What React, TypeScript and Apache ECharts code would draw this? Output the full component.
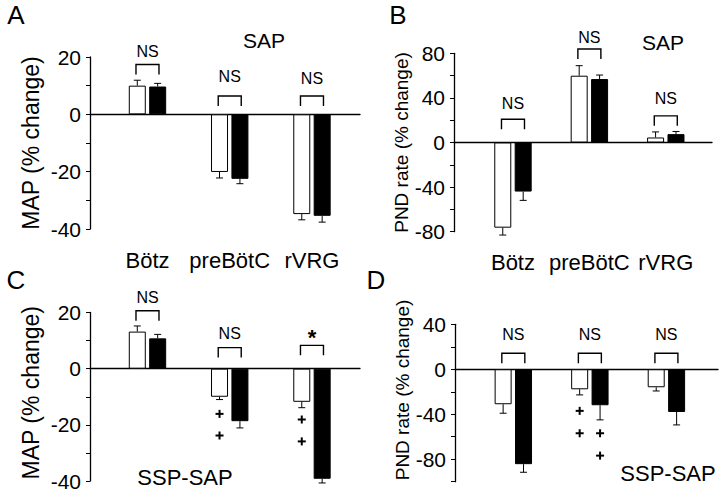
import React, { useEffect, useRef } from 'react';
import * as echarts from 'echarts';

// ---------- data ----------
const categories = ['Bötz', 'preBötC', 'rVRG'];

// Panel A: MAP (% change), SAP
const mapSapWhite = [10.0, -20.1, -34.8];
const mapSapWhiteErr = [1.9, 2.1, 2.0];
const mapSapBlack = [9.7, -22.5, -35.4];
const mapSapBlackErr = [1.1, 1.7, 2.2];
const mapSapBracket = [17.4, 6.4, 6.4];
const mapSapSigY = [21.8, 13.1, 12.6];
const mapSapSig = ['NS', 'NS', 'NS'];

// Panel B: PND rate (% change), SAP
const pndSapWhite = [-76.4, 59.9, 4.5];
const pndSapWhiteErr = [6.6, 9.0, 5.0];
const pndSapBlack = [-44.0, 56.9, 7.5];
const pndSapBlackErr = [7.9, 3.6, 2.4];
const pndSapBracket = [20.9, 83.9, 23.9];
const pndSapSigY = [35.3, 94.3, 39.8];
const pndSapSig = ['NS', 'NS', 'NS'];

// Panel C: MAP (% change), SSP-SAP
const mapSspWhite = [13.2, -10.0, -11.8];
const mapSspWhiteErr = [2.0, 1.0, 2.1];
const mapSspBlack = [10.8, -18.7, -39.2];
const mapSspBlackErr = [1.4, 2.4, 1.5];
const mapSspBracket = [20.6, 7.5, 8.3];
const mapSspSigY = [25.4, 12.6, 11.0];
const mapSspSig = ['NS', 'NS', '*'];
// [category, bar (0 white / 1 black), value]
const mapSspPlus = [[1, 0, -16.1], [1, 0, -23.8], [2, 0, -18.1], [2, 0, -25.9]];

// Panel D: PND rate (% change), SSP-SAP
const pndSspWhite = [-31.1, -17.8, -16.0];
const pndSspWhiteErr = [8.0, 5.0, 3.3];
const pndSspBlack = [-84.4, -32.0, -38.0];
const pndSspBlackErr = [7.2, 13.0, 11.5];
const pndSspBracket = [14.2, 14.2, 14.2];
const pndSspSigY = [30.5, 30.5, 30.5];
const pndSspSig = ['NS', 'NS', 'NS'];
const pndSspPlus = [[1, 0, -37.0], [1, 0, -56.9], [1, 1, -56.9], [1, 1, -76.8]];

// ---------- layout ----------
const FONT = '"Liberation Sans", Arial, Helvetica, sans-serif';
const BAR_W = 17;
const BAR_GAP = 0.2;
const OFFSET = (BAR_W * (1 + BAR_GAP)) / 2;

type Panel = {
  white: number[]; whiteErr: number[]; black: number[]; blackErr: number[];
  bracket: number[]; sigY: number[]; sig: string[]; plus: number[][];
  grid: { left: number; top: number; width: number; height: number };
  xMin: number; xMax: number; yMin: number; yMax: number; yInterval: number; labelEvery: number;
  yName: string; nameSize: number; nameGap: number; namePad: number[]; showCats: boolean;
};

const panels: Panel[] = [
  {
    white: mapSapWhite, whiteErr: mapSapWhiteErr, black: mapSapBlack, blackErr: mapSapBlackErr,
    bracket: mapSapBracket, sigY: mapSapSigY, sig: mapSapSig, plus: [],
    grid: { left: 90, top: 57, width: 270, height: 172 },
    xMin: -0.699, xMax: 2.584, yMin: -40, yMax: 20, yInterval: 10, labelEvery: 20,
    yName: 'MAP (% change)', nameSize: 23, nameGap: 48, namePad: [0, 0, 0, 0], showCats: true,
  },
  {
    white: pndSapWhite, whiteErr: pndSapWhiteErr, black: pndSapBlack, blackErr: pndSapBlackErr,
    bracket: pndSapBracket, sigY: pndSapSigY, sig: pndSapSig, plus: [],
    grid: { left: 454, top: 53.3, width: 258, height: 178.4 },
    xMin: -0.772, xMax: 2.605, yMin: -80, yMax: 80, yInterval: 20, labelEvery: 40,
    yName: 'PND rate (% change)', nameSize: 19, nameGap: 40, namePad: [0, 0, 0, 0], showCats: true,
  },
  {
    white: mapSspWhite, whiteErr: mapSspWhiteErr, black: mapSspBlack, blackErr: mapSspBlackErr,
    bracket: mapSspBracket, sigY: mapSspSigY, sig: mapSspSig, plus: mapSspPlus,
    grid: { left: 90, top: 312.5, width: 270, height: 168.5 },
    xMin: -0.699, xMax: 2.584, yMin: -40, yMax: 20, yInterval: 10, labelEvery: 20,
    yName: 'MAP (% change)', nameSize: 23, nameGap: 48, namePad: [0, 0, 0, 8], showCats: false,
  },
  {
    white: pndSspWhite, whiteErr: pndSspWhiteErr, black: pndSspBlack, blackErr: pndSspBlackErr,
    bracket: pndSspBracket, sigY: pndSspSigY, sig: pndSspSig, plus: pndSspPlus,
    grid: { left: 455, top: 324.3, width: 263, height: 157.4 },
    xMin: -0.762, xMax: 2.674, yMin: -100, yMax: 40, yInterval: 20, labelEvery: 40,
    yName: 'PND rate (% change)', nameSize: 19, nameGap: 41, namePad: [0, 0, 0, 26], showCats: false,
  },
];

function buildOption() {
  const grid: any[] = [];
  const xAxis: any[] = [];
  const yAxis: any[] = [];
  const series: any[] = [];

  panels.forEach((p, i) => {
    grid.push({ ...p.grid, containLabel: false });
    const mainX = xAxis.length;
    xAxis.push({
      gridIndex: i, type: 'value', min: p.xMin, max: p.xMax, position: 'bottom',
      axisLine: { show: true, onZero: true, lineStyle: { color: '#000', width: 1.3 } },
      axisTick: { show: false }, axisLabel: { show: false }, splitLine: { show: false },
    });
    if (p.showCats) {
      xAxis.push({
        gridIndex: i, type: 'value', min: p.xMin, max: p.xMax, position: 'bottom',
        axisLine: { show: false, onZero: false }, axisTick: { show: false }, splitLine: { show: false },
        axisLabel: {
          show: true, customValues: [0, 1, 2], margin: 20, fontSize: 22, color: '#000', fontFamily: FONT,
          formatter: (v: number) => categories[Math.round(v)] ?? '',
        },
      });
    }
    yAxis.push({
      gridIndex: i, type: 'value', min: p.yMin, max: p.yMax, interval: p.yInterval,
      axisLine: { show: true, onZero: false, lineStyle: { color: '#000', width: 1.3 } },
      axisTick: { show: true, length: 4, lineStyle: { color: '#000', width: 1 } },
      splitLine: { show: false },
      axisLabel: {
        fontSize: 21, color: '#000', fontFamily: FONT, margin: 9,
        formatter: (v: number) => (Math.round(v) % p.labelEvery === 0 ? String(Math.round(v)) : ''),
      },
      name: p.yName, nameLocation: 'middle', nameGap: p.nameGap,
      nameTextStyle: { fontSize: p.nameSize, color: '#000', fontFamily: FONT, padding: p.namePad },
    });

    const ax = { xAxisIndex: mainX, yAxisIndex: i };
    series.push({
      type: 'bar', ...ax, name: 'white', barWidth: BAR_W, barGap: `${BAR_GAP * 100}%`,
      data: p.white.map((v, j) => [j, v]),
      itemStyle: { color: '#fff', borderColor: '#000', borderWidth: 1 },
      z: 2,
    });
    series.push({
      type: 'bar', ...ax, name: 'black', barWidth: BAR_W, barGap: `${BAR_GAP * 100}%`,
      data: p.black.map((v, j) => [j, v]),
      itemStyle: { color: '#000', borderColor: '#000', borderWidth: 1 },
      z: 2,
    });
    const errData = [
      ...p.white.map((v, j) => [j, v, p.whiteErr[j], 0]),
      ...p.black.map((v, j) => [j, v, p.blackErr[j], 1]),
    ];
    series.push({
      type: 'custom', ...ax, clip: false, z: 3, silent: true,
      data: errData,
      renderItem: (_params: any, api: any) => {
        const cat = api.value(0), v = api.value(1), e = api.value(2), w = api.value(3);
        const dir = v >= 0 ? 1 : -1;
        const base = api.coord([cat, v]);
        const end = api.coord([cat, v + dir * e]);
        const x = base[0] + (w ? 1 : -1) * OFFSET;
        return {
          type: 'group',
          children: [
            { type: 'line', shape: { x1: x, y1: base[1], x2: x, y2: end[1] }, style: { stroke: '#000', lineWidth: 1 } },
            { type: 'line', shape: { x1: x - 3.5, y1: end[1], x2: x + 3.5, y2: end[1] }, style: { stroke: '#000', lineWidth: 1 } },
          ],
        };
      },
    });
    series.push({
      type: 'custom', ...ax, clip: false, z: 3, silent: true,
      data: p.bracket.map((b, j) => [j, b, p.sigY[j]]),
      renderItem: (params: any, api: any) => {
        const cat = api.value(0), top = api.value(1), ly = api.value(2);
        const pt = api.coord([cat, top]);
        const lp = api.coord([cat, ly]);
        const hw = 11.5;
        const label = p.sig[params.dataIndex];
        return {
          type: 'group',
          children: [
            {
              type: 'polyline',
              shape: { points: [[pt[0] - hw, pt[1] + 10], [pt[0] - hw, pt[1]], [pt[0] + hw, pt[1]], [pt[0] + hw, pt[1] + 10]] },
              style: { stroke: '#000', lineWidth: 1.4, fill: 'none' },
            },
            {
              type: 'text', x: lp[0], y: lp[1],
              style: {
                text: label, fill: '#000', fontSize: label === '*' ? 22 : 16, fontWeight: label === '*' ? 'bold' : 'normal',
                fontFamily: FONT, align: 'center', verticalAlign: 'middle',
              },
            },
          ],
        };
      },
    });
    if (p.plus.length) {
      series.push({
        type: 'custom', ...ax, clip: false, z: 3, silent: true,
        data: p.plus,
        renderItem: (_params: any, api: any) => {
          const cat = api.value(0), w = api.value(1), v = api.value(2);
          const pt = api.coord([cat, v]);
          const x = pt[0] + (w ? 1 : -1) * OFFSET;
          const y = pt[1];
          return {
            type: 'group',
            children: [
              { type: 'line', shape: { x1: x - 4, y1: y, x2: x + 4, y2: y }, style: { stroke: '#000', lineWidth: 2 } },
              { type: 'line', shape: { x1: x, y1: y - 4, x2: x, y2: y + 4 }, style: { stroke: '#000', lineWidth: 2 } },
            ],
          };
        },
      });
    }
  });

  const txt = (text: string, x: number, y: number, size: number) => ({
    type: 'text', x, y, silent: true,
    style: { text, fill: '#000', fontSize: size, fontFamily: FONT, align: 'center', verticalAlign: 'middle' },
  });

  return {
    animation: false,
    backgroundColor: '#fff',
    grid, xAxis, yAxis, series,
    graphic: [
      txt('A', 16, 15, 26),
      txt('B', 398, 15, 26),
      txt('C', 16, 280, 26),
      txt('D', 376, 280, 26),
      txt('SAP', 264, 40, 21),
      txt('SAP', 663, 42, 21),
      txt('SSP-SAP', 185, 477, 22),
      txt('SSP-SAP', 668, 473, 22),
    ],
  };
}

export default function App() {
  const ref = useRef<HTMLDivElement>(null);
  useEffect(() => {
    if (!ref.current) return;
    const chart = echarts.init(ref.current, undefined, { renderer: 'svg' });
    chart.setOption(buildOption() as any);
    return () => chart.dispose();
  }, []);
  return (
    <div
      ref={ref}
      style={{ position: 'absolute', left: 0, top: 0, width: 720, height: 502, background: '#fff' }}
    />
  );
}
